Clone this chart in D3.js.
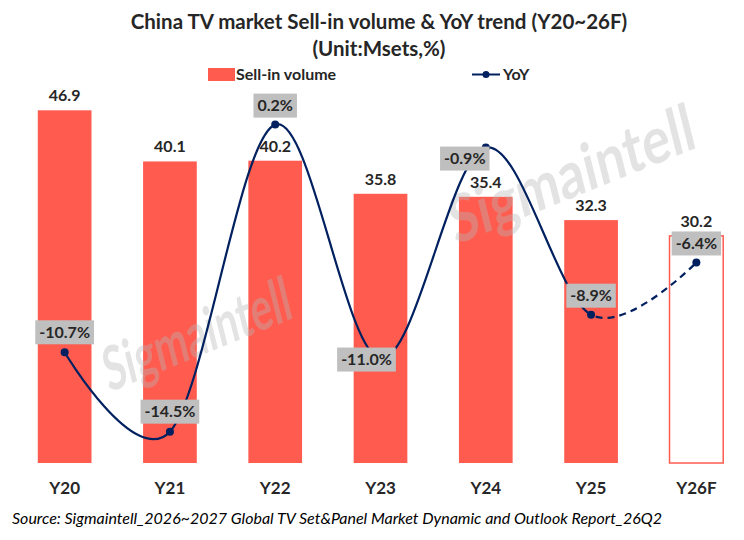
<!DOCTYPE html>
<html>
<head>
<meta charset="utf-8">
<script src="https://cdn.jsdelivr.net/npm/d3@7"></script>
<style>
  body { margin: 0; background: #fff; }
  text { font-family: Lato, 'Open Sans', sans-serif; }
</style>
</head>
<body>
<div id="chart"></div>
<script>
var categories = ['Y20', 'Y21', 'Y22', 'Y23', 'Y24', 'Y25', 'Y26F']
var sellIn = [46.9, 40.1, 40.2, 35.8, 35.4, 32.3, 30.2]
var yoy = [-10.7, -14.5, 0.2, -11.0, -0.9, -8.9, -6.4]
// label nudges for the yoy boxes (px), Excel had some moved by hand
var yoyLabelDx = [0, 0, 0, -14, -21, 0, 0]
var yoyLabelDy = [-20, -20, -19, 1, 11, -19, -19]

var width = 744
var height = 540

var barColor = '#ff5b4f'
var lineColor = '#002060'
var textColor = '#262626'

var svg = d3
  .select('#chart')
  .append('svg')
  .attr('width', width)
  .attr('height', height)

var plotTop = 87
var plotBottom = 463

var xScale = d3
  .scaleBand()
  .domain(categories)
  .range([12, 749])
  .paddingInner(0.49)
  .paddingOuter(0.245)

var yScale = d3.scaleLinear().domain([0, 50]).range([plotBottom, plotTop])
var y2Scale = d3.scaleLinear().domain([-16, 2]).range([plotBottom, plotTop])

// title
svg
  .append('text')
  .attr('x', 379)
  .attr('y', 29)
  .attr('text-anchor', 'middle')
  .attr('font-size', 20.5)
  .attr('font-weight', 700)
  .attr('fill', textColor)
  .text('China TV market Sell-in volume & YoY trend (Y20~26F)')

svg
  .append('text')
  .attr('x', 379)
  .attr('y', 56)
  .attr('text-anchor', 'middle')
  .attr('font-size', 20.5)
  .attr('font-weight', 700)
  .attr('fill', textColor)
  .text('(Unit:Msets,%)')

// legend
var legend = svg.append('g').attr('class', 'legend')
legend
  .append('rect')
  .attr('x', 208)
  .attr('y', 68)
  .attr('width', 27)
  .attr('height', 13)
  .attr('fill', barColor)
legend
  .append('text')
  .attr('x', 236)
  .attr('y', 80)
  .attr('font-size', 16)
  .attr('font-weight', 700)
  .attr('fill', textColor)
  .text('Sell-in volume')
legend
  .append('line')
  .attr('x1', 472)
  .attr('x2', 500)
  .attr('y1', 74.5)
  .attr('y2', 74.5)
  .attr('stroke', lineColor)
  .attr('stroke-width', 2)
legend
  .append('circle')
  .attr('cx', 486)
  .attr('cy', 74.5)
  .attr('r', 3.5)
  .attr('fill', lineColor)
legend
  .append('text')
  .attr('x', 503)
  .attr('y', 80)
  .attr('font-size', 16)
  .attr('font-weight', 700)
  .attr('fill', textColor)
  .text('YoY')

// bars
var last = categories.length - 1
svg
  .selectAll('.bar')
  .data(categories)
  .enter()
  .append('rect')
  .attr('class', 'bar')
  .attr('x', d => xScale(d))
  .attr('y', (d, i) => yScale(sellIn[i]))
  .attr('width', xScale.bandwidth())
  .attr('height', (d, i) => yScale(0) - yScale(sellIn[i]))
  .attr('fill', (d, i) => (i === last ? '#fff' : barColor))
  .attr('stroke', (d, i) => (i === last ? barColor : 'none'))
  .attr('stroke-width', 1.5)

// watermarks (narrowed with a scale so they look condensed)
var marks = [
  { x: 202, y: 355, size: 60, len: 200 },
  { x: 577, y: 196, size: 64, len: 262 }
]
svg
  .selectAll('.watermark')
  .data(marks)
  .enter()
  .append('text')
  .attr('class', 'watermark')
  .attr('text-anchor', 'middle')
  .attr('font-size', d => d.size)
  .attr('font-weight', 700)
  .attr('fill', '#b8b8b8')
  .attr('opacity', 0.38)
  .text('Sigmaintell')
  .attr('transform', function(d) {
    var k = d.len / this.getComputedTextLength()
    return 'translate(' + d.x + ',' + d.y + ') rotate(-22) skewX(-8) scale(' + k + ',1)'
  })

// bar value labels
svg
  .selectAll('.bar-label')
  .data(categories)
  .enter()
  .append('text')
  .attr('class', 'bar-label')
  .attr('x', d => xScale(d) + xScale.bandwidth() / 2)
  .attr('y', (d, i) => yScale(sellIn[i]) - 9)
  .attr('text-anchor', 'middle')
  .attr('font-size', 16)
  .attr('font-weight', 700)
  .attr('fill', textColor)
  .text((d, i) => sellIn[i].toFixed(1))

// yoy line, smoothed like Excel, last segment dashed
var points = categories.map((d, i) => [
  xScale(d) + xScale.bandwidth() / 2,
  y2Scale(yoy[i])
])

var line = d3.line().curve(d3.curveCardinal.tension(0))
var splitX = points[last - 1][0]

var defs = svg.append('defs')
defs
  .append('clipPath')
  .attr('id', 'solid-part')
  .append('rect')
  .attr('x', 0)
  .attr('y', 0)
  .attr('width', splitX)
  .attr('height', height)
defs
  .append('clipPath')
  .attr('id', 'dashed-part')
  .append('rect')
  .attr('x', splitX)
  .attr('y', 0)
  .attr('width', width - splitX)
  .attr('height', height)

svg
  .append('path')
  .attr('d', line(points))
  .attr('fill', 'none')
  .attr('stroke', lineColor)
  .attr('stroke-width', 2.2)
  .attr('clip-path', 'url(#solid-part)')

svg
  .append('path')
  .attr('d', line(points))
  .attr('fill', 'none')
  .attr('stroke', lineColor)
  .attr('stroke-width', 2.2)
  .attr('stroke-dasharray', '7,5')
  .attr('clip-path', 'url(#dashed-part)')

svg
  .selectAll('.dot')
  .data(points)
  .enter()
  .append('circle')
  .attr('class', 'dot')
  .attr('cx', d => d[0])
  .attr('cy', d => d[1])
  .attr('r', 4)
  .attr('fill', lineColor)

// yoy labels in grey boxes
var yoyLabels = svg
  .selectAll('.yoy-label')
  .data(categories)
  .enter()
  .append('g')
  .attr('class', 'yoy-label')
  .attr('transform', (d, i) => {
    var p = points[i]
    return 'translate(' + (p[0] + yoyLabelDx[i]) + ',' + (p[1] + yoyLabelDy[i]) + ')'
  })

yoyLabels
  .append('text')
  .attr('text-anchor', 'middle')
  .attr('dy', '0.36em')
  .attr('font-size', 16)
  .attr('font-weight', 700)
  .attr('fill', textColor)
  .text((d, i) => yoy[i].toFixed(1) + '%')

yoyLabels.each(function() {
  var g = d3.select(this)
  var box = g.select('text').node().getBBox()
  g.insert('rect', 'text')
    .attr('x', box.x - 4)
    .attr('y', -12)
    .attr('width', box.width + 8)
    .attr('height', 24)
    .attr('fill', '#bfbfbf')
})

// x axis labels
svg
  .selectAll('.cat-label')
  .data(categories)
  .enter()
  .append('text')
  .attr('class', 'cat-label')
  .attr('x', d => xScale(d) + xScale.bandwidth() / 2)
  .attr('y', 494)
  .attr('text-anchor', 'middle')
  .attr('font-size', 17)
  .attr('font-weight', 700)
  .attr('fill', textColor)
  .text(d => d)

// source
svg
  .append('text')
  .attr('x', 12)
  .attr('y', 524)
  .attr('font-size', 16)
  .attr('font-style', 'italic')
  .attr('fill', '#000')
  .text('Source: Sigmaintell_2026~2027 Global TV Set&Panel Market Dynamic and Outlook Report_26Q2')
</script>
</body>
</html>
